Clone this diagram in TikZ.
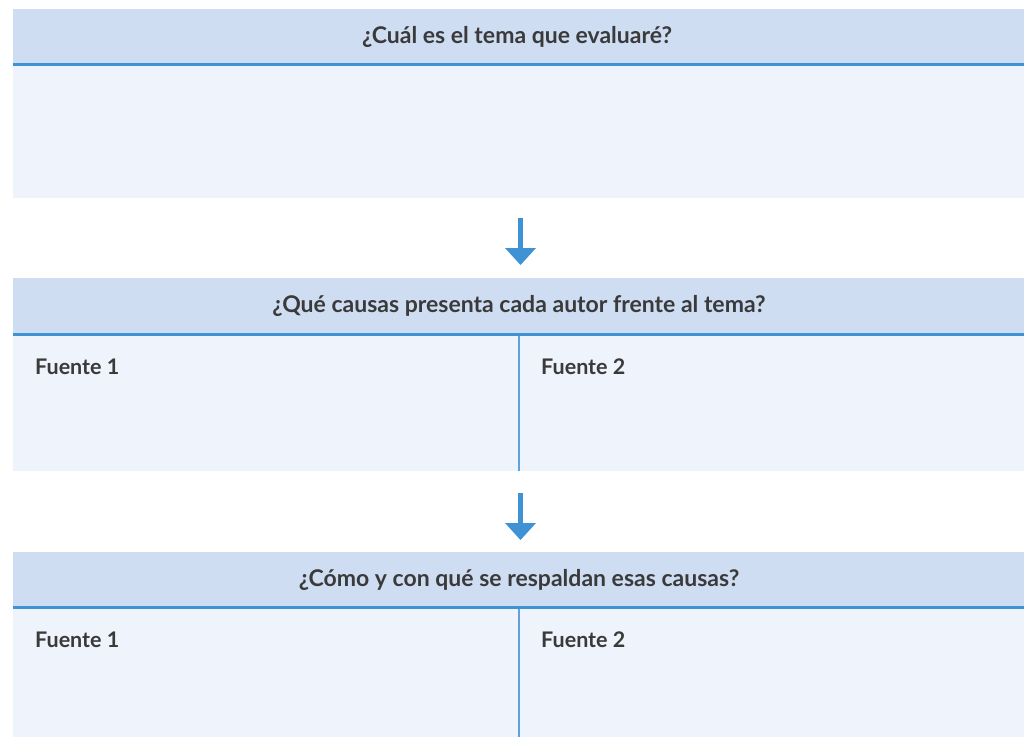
\documentclass[tikz,border=0pt]{standalone}
\usepackage{fontspec}
\setmainfont{Lato}
\definecolor{hdr}{HTML}{CFDDF3}
\definecolor{bdy}{HTML}{EEF3FC}
\definecolor{rule}{HTML}{3F93D5}
\definecolor{divl}{HTML}{5EA2DC}
\definecolor{txt}{HTML}{3A3A3A}
\tikzset{
  hdrbox/.style={fill=hdr, draw=none},
  bdybox/.style={fill=bdy, draw=none},
  hdrtext/.style={font=\fontsize{23}{27}\selectfont\bfseries, text=txt, anchor=center, inner sep=0pt},
  srctext/.style={font=\fontsize{21.5}{25}\selectfont\bfseries, text=txt, anchor=west, inner sep=0pt},
  sepline/.style={draw=rule, line width=3pt},
  divline/.style={draw=divl, line width=1.6pt},
  arrowshaft/.style={draw=rule, line width=5pt},
  arrowhead/.style={fill=rule, draw=none}
}
\begin{document}
\begin{tikzpicture}[x=1pt,y=-1pt]
\useasboundingbox (0,0) rectangle (1024,737);
% block 1
\fill[hdrbox] (13,9) rectangle (1024,64);
\fill[bdybox] (13,64) rectangle (1024,198);
\draw[sepline] (13,64.5) -- (1024,64.5);
\node[hdrtext] (h1) at (517,37) {¿Cuál es el tema que evaluaré?};
% arrow 1
\coordinate (a1s) at (520.5,218);
\coordinate (a1e) at (520.5,249);
\draw[arrowshaft] (a1s) -- (a1e);
\fill[arrowhead] (505,248) -- (536,248) -- (520.5,265) -- cycle;
% block 2
\fill[hdrbox] (13,278) rectangle (1024,334);
\fill[bdybox] (13,334) rectangle (1024,471);
\draw[sepline] (13,334.5) -- (1024,334.5);
\node[hdrtext] (h2) at (519,306) {¿Qué causas presenta cada autor frente al tema?};
\coordinate (d2t) at (519,336);
\coordinate (d2b) at (519,471);
\draw[divline] (d2t) -- (d2b);
\node[srctext] (f21) at (35,367) {Fuente 1};
\node[srctext] (f22) at (541,367) {Fuente 2};
% arrow 2
\coordinate (a2s) at (520.5,493);
\coordinate (a2e) at (520.5,524);
\draw[arrowshaft] (a2s) -- (a2e);
\fill[arrowhead] (505,523) -- (536,523) -- (520.5,540) -- cycle;
% block 3
\fill[hdrbox] (13,552) rectangle (1024,607);
\fill[bdybox] (13,607) rectangle (1024,737);
\draw[sepline] (13,607.5) -- (1024,607.5);
\node[hdrtext] (h3) at (519,580) {¿Cómo y con qué se respaldan esas causas?};
\coordinate (d3t) at (519,609);
\coordinate (d3b) at (519,737);
\draw[divline] (d3t) -- (d3b);
\node[srctext] (f31) at (35,640) {Fuente 1};
\node[srctext] (f32) at (541,640) {Fuente 2};
\end{tikzpicture}
\end{document}
